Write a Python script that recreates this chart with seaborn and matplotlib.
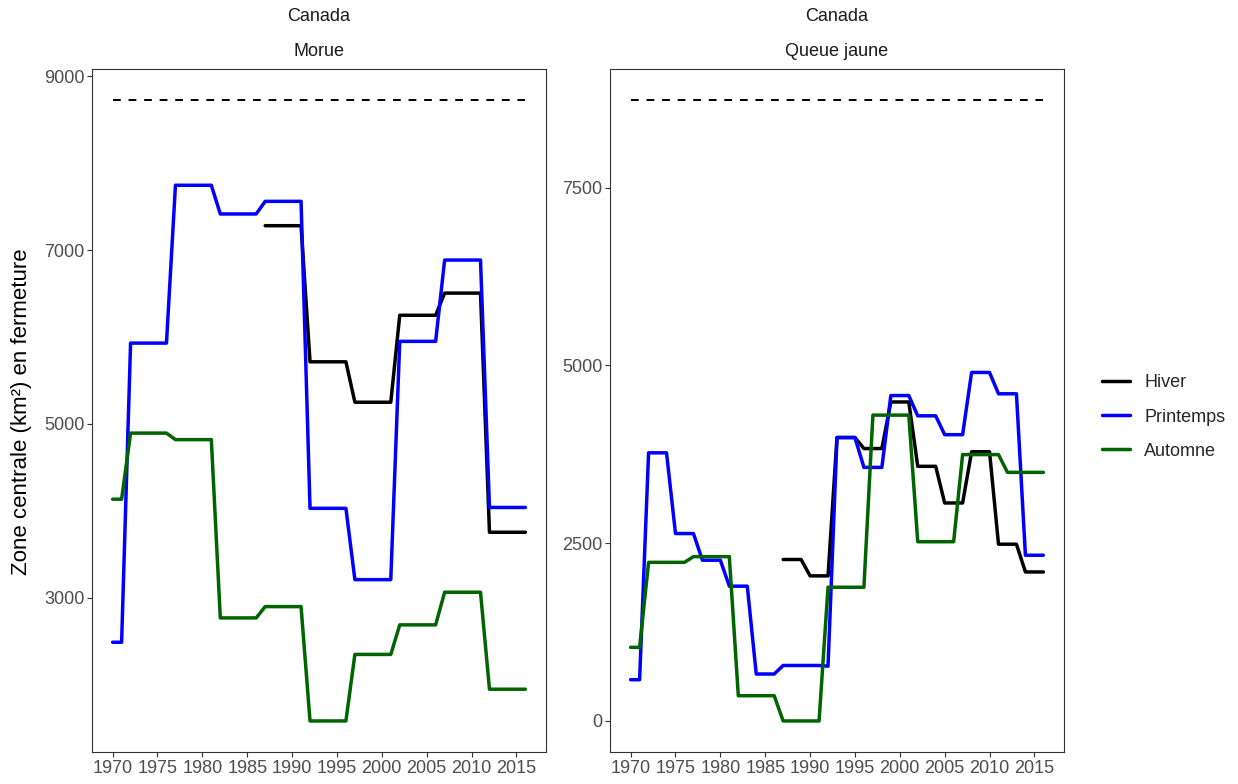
import numpy as np
import pandas as pd
import seaborn as sns
import matplotlib
matplotlib.use("Agg")
import matplotlib.pyplot as plt
from matplotlib.lines import Line2D

nan = np.nan

# annees et saisons
years = list(range(1970, 2017))
saisons = ["Hiver", "Printemps", "Automne"]
couleurs = {"Hiver": "black", "Printemps": "blue", "Automne": "#006400"}

# Canada - Morue
morue_hiver = [nan] * 17 + [
    7280, 7280, 7280, 7280, 7280, 5715, 5715, 5715, 5715, 5715,
    5250, 5250, 5250, 5250, 5250, 6250, 6250, 6250, 6250, 6250,
    6505, 6505, 6505, 6505, 6505, 3755, 3755, 3755, 3755, 3755]
morue_printemps = [
    2490, 2490, 5930, 5930, 5930, 5930, 5930, 7745, 7745, 7745,
    7745, 7745, 7415, 7415, 7415, 7415, 7415, 7560, 7560, 7560,
    7560, 7560, 4030, 4030, 4030, 4030, 4030, 3210, 3210, 3210,
    3210, 3210, 5950, 5950, 5950, 5950, 5950, 6885, 6885, 6885,
    6885, 6885, 4040, 4040, 4040, 4040, 4040]
morue_automne = [
    4135, 4135, 4895, 4895, 4895, 4895, 4895, 4820, 4820, 4820,
    4820, 4820, 2770, 2770, 2770, 2770, 2770, 2900, 2900, 2900,
    2900, 2900, 1585, 1585, 1585, 1585, 1585, 2350, 2350, 2350,
    2350, 2350, 2690, 2690, 2690, 2690, 2690, 3065, 3065, 3065,
    3065, 3065, 1950, 1950, 1950, 1950, 1950]
morue_reference = 8725

# Canada - Queue jaune
queue_hiver = [nan] * 17 + [
    2270, 2270, 2270, 2040, 2040, 2040, 3985, 3985, 3985, 3830,
    3830, 3830, 4485, 4485, 4485, 3580, 3580, 3580, 3065, 3065,
    3065, 3785, 3785, 3785, 2485, 2485, 2485, 2095, 2095, 2095]
queue_printemps = [
    580, 580, 3770, 3770, 3770, 2635, 2635, 2635, 2260, 2260,
    2260, 1895, 1895, 1895, 660, 660, 660, 780, 780, 780,
    780, 780, 770, 3985, 3985, 3985, 3565, 3565, 3565, 4575,
    4575, 4575, 4290, 4290, 4290, 4025, 4025, 4025, 4900, 4900,
    4900, 4600, 4600, 4600, 2330, 2330, 2330]
queue_automne = [
    1035, 1035, 2230, 2230, 2230, 2230, 2230, 2310, 2310, 2310,
    2310, 2310, 355, 355, 355, 355, 355, 0, 0, 0,
    0, 0, 1880, 1880, 1880, 1880, 1880, 4300, 4300, 4300,
    4300, 4300, 2520, 2520, 2520, 2520, 2520, 3745, 3745, 3745,
    3745, 3745, 3495, 3495, 3495, 3495, 3495]
queue_reference = 8730


def long_df(hiver, printemps, automne):
    frames = []
    for s, v in zip(saisons, [hiver, printemps, automne]):
        frames.append(pd.DataFrame({"annee": years, "zone": v, "saison": s}))
    return pd.concat(frames, ignore_index=True).dropna()


panels = [
    ("Morue", long_df(morue_hiver, morue_printemps, morue_automne), morue_reference,
     [3000, 5000, 7000, 9000]),
    ("Queue jaune", long_df(queue_hiver, queue_printemps, queue_automne), queue_reference,
     [0, 2500, 5000, 7500]),
]

sns.set_style("ticks")
plt.rcParams["font.family"] = ["Liberation Sans", "DejaVu Sans"]

W, H = 1238, 784
fig = plt.figure(figsize=(W / 100, H / 100), dpi=100)
boxes = [(92, 69, 546, 752), (610, 69, 1064, 752)]

lw = 2.5
for (espece, df, ref, yticks), (x0, y0, x1, y1) in zip(panels, boxes):
    ax = fig.add_axes([x0 / W, 1 - y1 / H, (x1 - x0) / W, (y1 - y0) / H])
    ref_df = pd.DataFrame({"annee": [years[0], years[-1]], "zone": [ref, ref]})
    sns.lineplot(data=ref_df, x="annee", y="zone", ax=ax, color="black",
                 linewidth=1.4, linestyle=(0, (4, 4)))
    sns.lineplot(data=df, x="annee", y="zone", hue="saison", hue_order=saisons,
                 palette=couleurs, linewidth=lw, ax=ax, legend=False)
    ax.set_xticks(list(range(1970, 2016, 5)))
    ax.set_yticks(yticks)
    ax.set_xlabel("")
    ax.set_ylabel("")
    for sp in ax.spines.values():
        sp.set_visible(True)
        sp.set_color("#333333")
        sp.set_linewidth(0.8)
    ax.tick_params(axis="both", labelsize=13, labelcolor="#4D4D4D",
                   color="#333333", length=3.6, width=0.8, pad=2)
    ax.annotate(espece, xy=(0.5, 1), xycoords="axes fraction",
                xytext=(0, 12.5), textcoords="offset points",
                ha="center", va="center", fontsize=13, color="#1A1A1A")
    ax.annotate("Canada", xy=(0.5, 1), xycoords="axes fraction",
                xytext=(0, 37.5), textcoords="offset points",
                ha="center", va="center", fontsize=13, color="#1A1A1A")

fig.text(22 / W, 1 - 412 / H, "Zone centrale (km²) en fermeture",
         rotation=90, ha="center", va="center", fontsize=16, color="black")

handles = [Line2D([0], [0], color=couleurs[s], linewidth=lw) for s in saisons]
fig.legend(handles, saisons, loc="center left",
           bbox_to_anchor=(1102 / W, 1 - 417 / H), frameon=False,
           fontsize=13, handlelength=1.55, handletextpad=0.8,
           labelspacing=0.95, borderpad=0, borderaxespad=0)

fig.savefig("out.png", dpi=100)
